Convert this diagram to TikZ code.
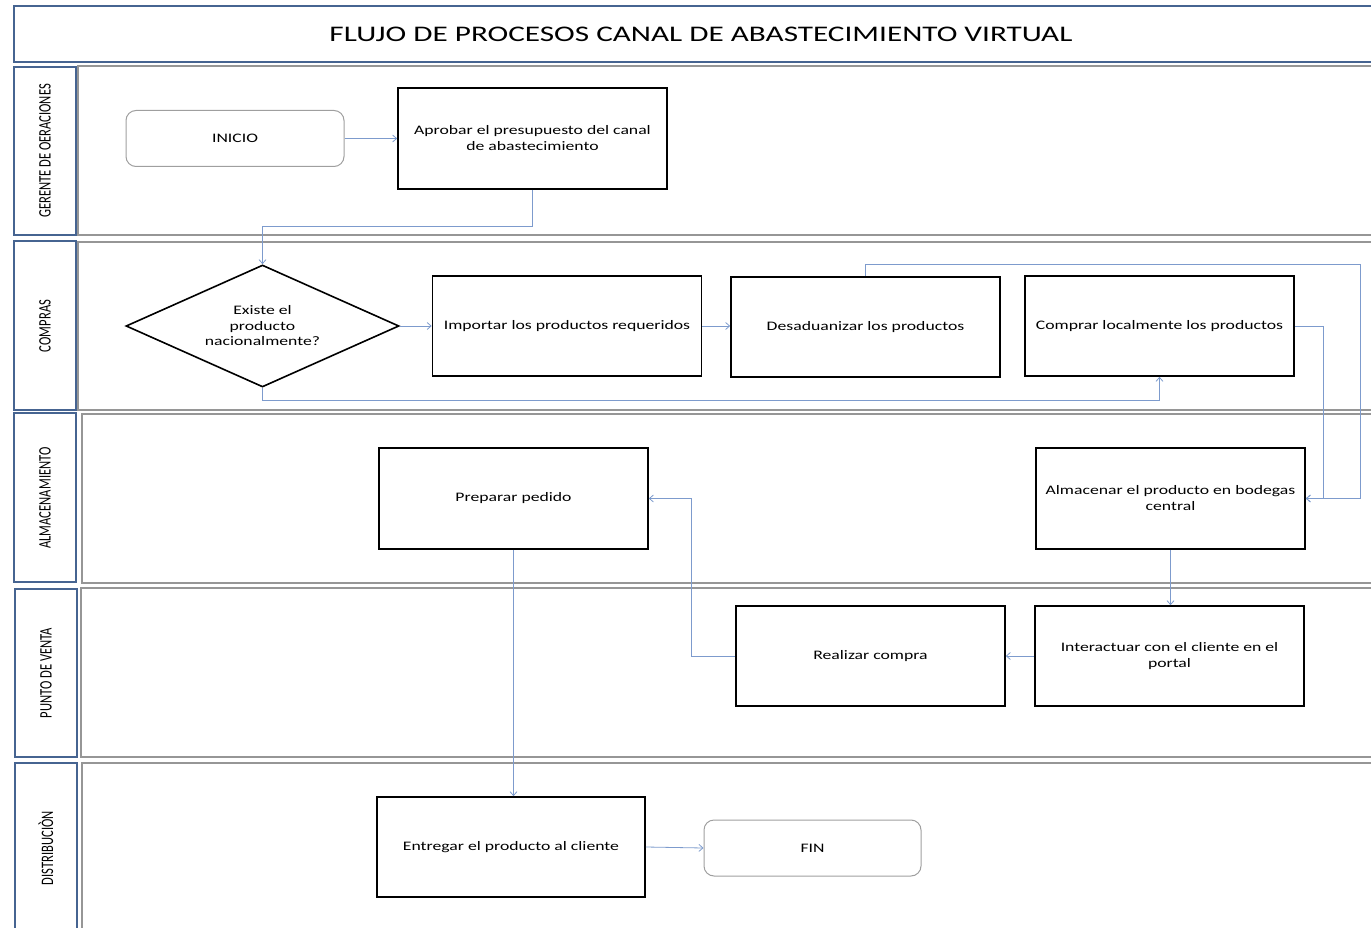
\documentclass[tikz,border=0pt]{standalone}
\usepackage{fontspec}
\usetikzlibrary{shapes.geometric,arrows.meta,calc}
\newfontfamily\boxfont[FakeStretch=1.36]{Carlito}
\newfontfamily\titlefont[FakeStretch=1.4]{Carlito}
\newfontfamily\lanefont[FakeStretch=0.72]{Carlito}
\definecolor{laneblue}{RGB}{70,100,145}
\definecolor{lanegray}{RGB}{150,150,150}
\definecolor{connblue}{RGB}{125,155,205}
\tikzset{
  proc/.style={draw=black,line width=1.6pt,minimum width=269pt,minimum height=101pt,inner sep=2pt,align=center,font=\boxfont\fontsize{13}{16}\selectfont},
  term/.style={draw=gray!75,line width=1pt,rounded corners=10pt,minimum width=218pt,minimum height=56pt,align=center,font=\boxfont\fontsize{13}{16}\selectfont},
  decis/.style={draw=black,line width=1.6pt,diamond,aspect=2.24,minimum width=273pt,minimum height=122pt,inner sep=0pt,align=center,font=\boxfont\fontsize{13}{15.5}\selectfont},
  lanelabel/.style={draw=laneblue,line width=1.8pt},
  lanebody/.style={draw=lanegray,line width=1.3pt},
  lanetext/.style={rotate=90,font=\lanefont\fontsize{17.5}{20}\selectfont},
  conn/.style={draw=connblue,line width=0.8pt,-{Straight Barb[length=4pt,width=7pt]}}
}
\begin{document}
\begin{tikzpicture}[x=1pt,y=-1pt]
\useasboundingbox (0,0) rectangle (1371,928);
% title
\draw[draw=laneblue,line width=1.8pt] (14,6) rectangle (1380,62);
\node[font=\titlefont\fontsize{22.3}{26}\selectfont] (title) at (701,34) {FLUJO DE PROCESOS CANAL DE ABASTECIMIENTO VIRTUAL};
% lanes
\draw[lanelabel] (14,67) rectangle (76,235);
\draw[lanebody] (78,66) rectangle (1380,235);
\node[lanetext] (l1) at (45,151) {GERENTE DE OERACIONES};
\draw[lanelabel] (14,241) rectangle (76,410);
\draw[lanebody] (78,242) rectangle (1380,410);
\node[lanetext] (l2) at (45,326) {COMPRAS};
\draw[lanelabel] (14,413) rectangle (76,582);
\draw[lanebody] (82,414) rectangle (1380,583);
\node[lanetext] (l3) at (45,498) {ALMACENAMIENTO};
\draw[lanelabel] (15,589) rectangle (77,757);
\draw[lanebody] (81,588) rectangle (1380,757);
\node[lanetext] (l4) at (46,673) {PUNTO DE VENTA};
\draw[lanelabel] (15,763) rectangle (77,935);
\draw[lanebody] (82,763) rectangle (1380,935);
\node[lanetext] (l5) at (46,848) {DISTRIBUCIÒN};
% nodes
\node[term] (inicio) at (235,138.5) {INICIO};
\node[proc] (aprob) at (532.5,138.5) {Aprobar el presupuesto del canal\\de abastecimiento};
\node[decis] (dec) at (262.5,326) {Existe el\\producto\\nacionalmente?};
\node[proc,minimum height=100pt] (imp) at (567,326) {Importar los productos requeridos};
\node[proc,minimum height=100pt] (desa) at (865.5,327) {Desaduanizar los productos};
\node[proc,minimum height=100pt] (comp) at (1159.5,326) {Comprar localmente los productos};
\node[proc] (prep) at (513.5,498.5) {Preparar pedido};
\node[proc] (alm) at (1170.5,498.5) {Almacenar el producto en bodegas\\central};
\node[proc,minimum height=100pt] (real) at (870.5,656) {Realizar compra};
\node[proc,minimum height=100pt] (inter) at (1169.5,656) {Interactuar con el cliente en el\\portal};
\node[proc,minimum height=100pt,minimum width=268pt] (entr) at (511,847) {Entregar el producto al cliente};
\node[term,minimum width=217pt] (fin) at (812.5,848) {FIN};
% helper coordinates
\coordinate (r1) at (1360,264);
\coordinate (r2) at (1360,498.5);
\coordinate (c1) at (1323,498.5);
% connectors
\draw[conn] (inicio) -- (aprob);
\draw[conn] (aprob.south) -- ++(0,37) -| (dec.north);
\draw[conn] (dec.east) -- (imp.west);
\draw[conn] (imp.east) -- (imp.east -| desa.west);
\draw[conn] (dec.south) -- ++(0,13) -| (comp.south);
\draw[conn] (desa.north) |- (r1) -- (r2) -- (alm.east);
\draw[conn] (comp.east) -| (c1) -- (alm.east);
\draw[conn] (alm.south) -- (alm.south |- inter.north);
\draw[conn] (inter.west) -- (real.east);
\draw[conn] (real.west) -- ++(-44,0) |- (prep.east);
\draw[conn] (prep.south) -- (prep.south |- entr.north);
\draw[conn] (entr.east) -- (fin.west);
\end{tikzpicture}
\end{document}
